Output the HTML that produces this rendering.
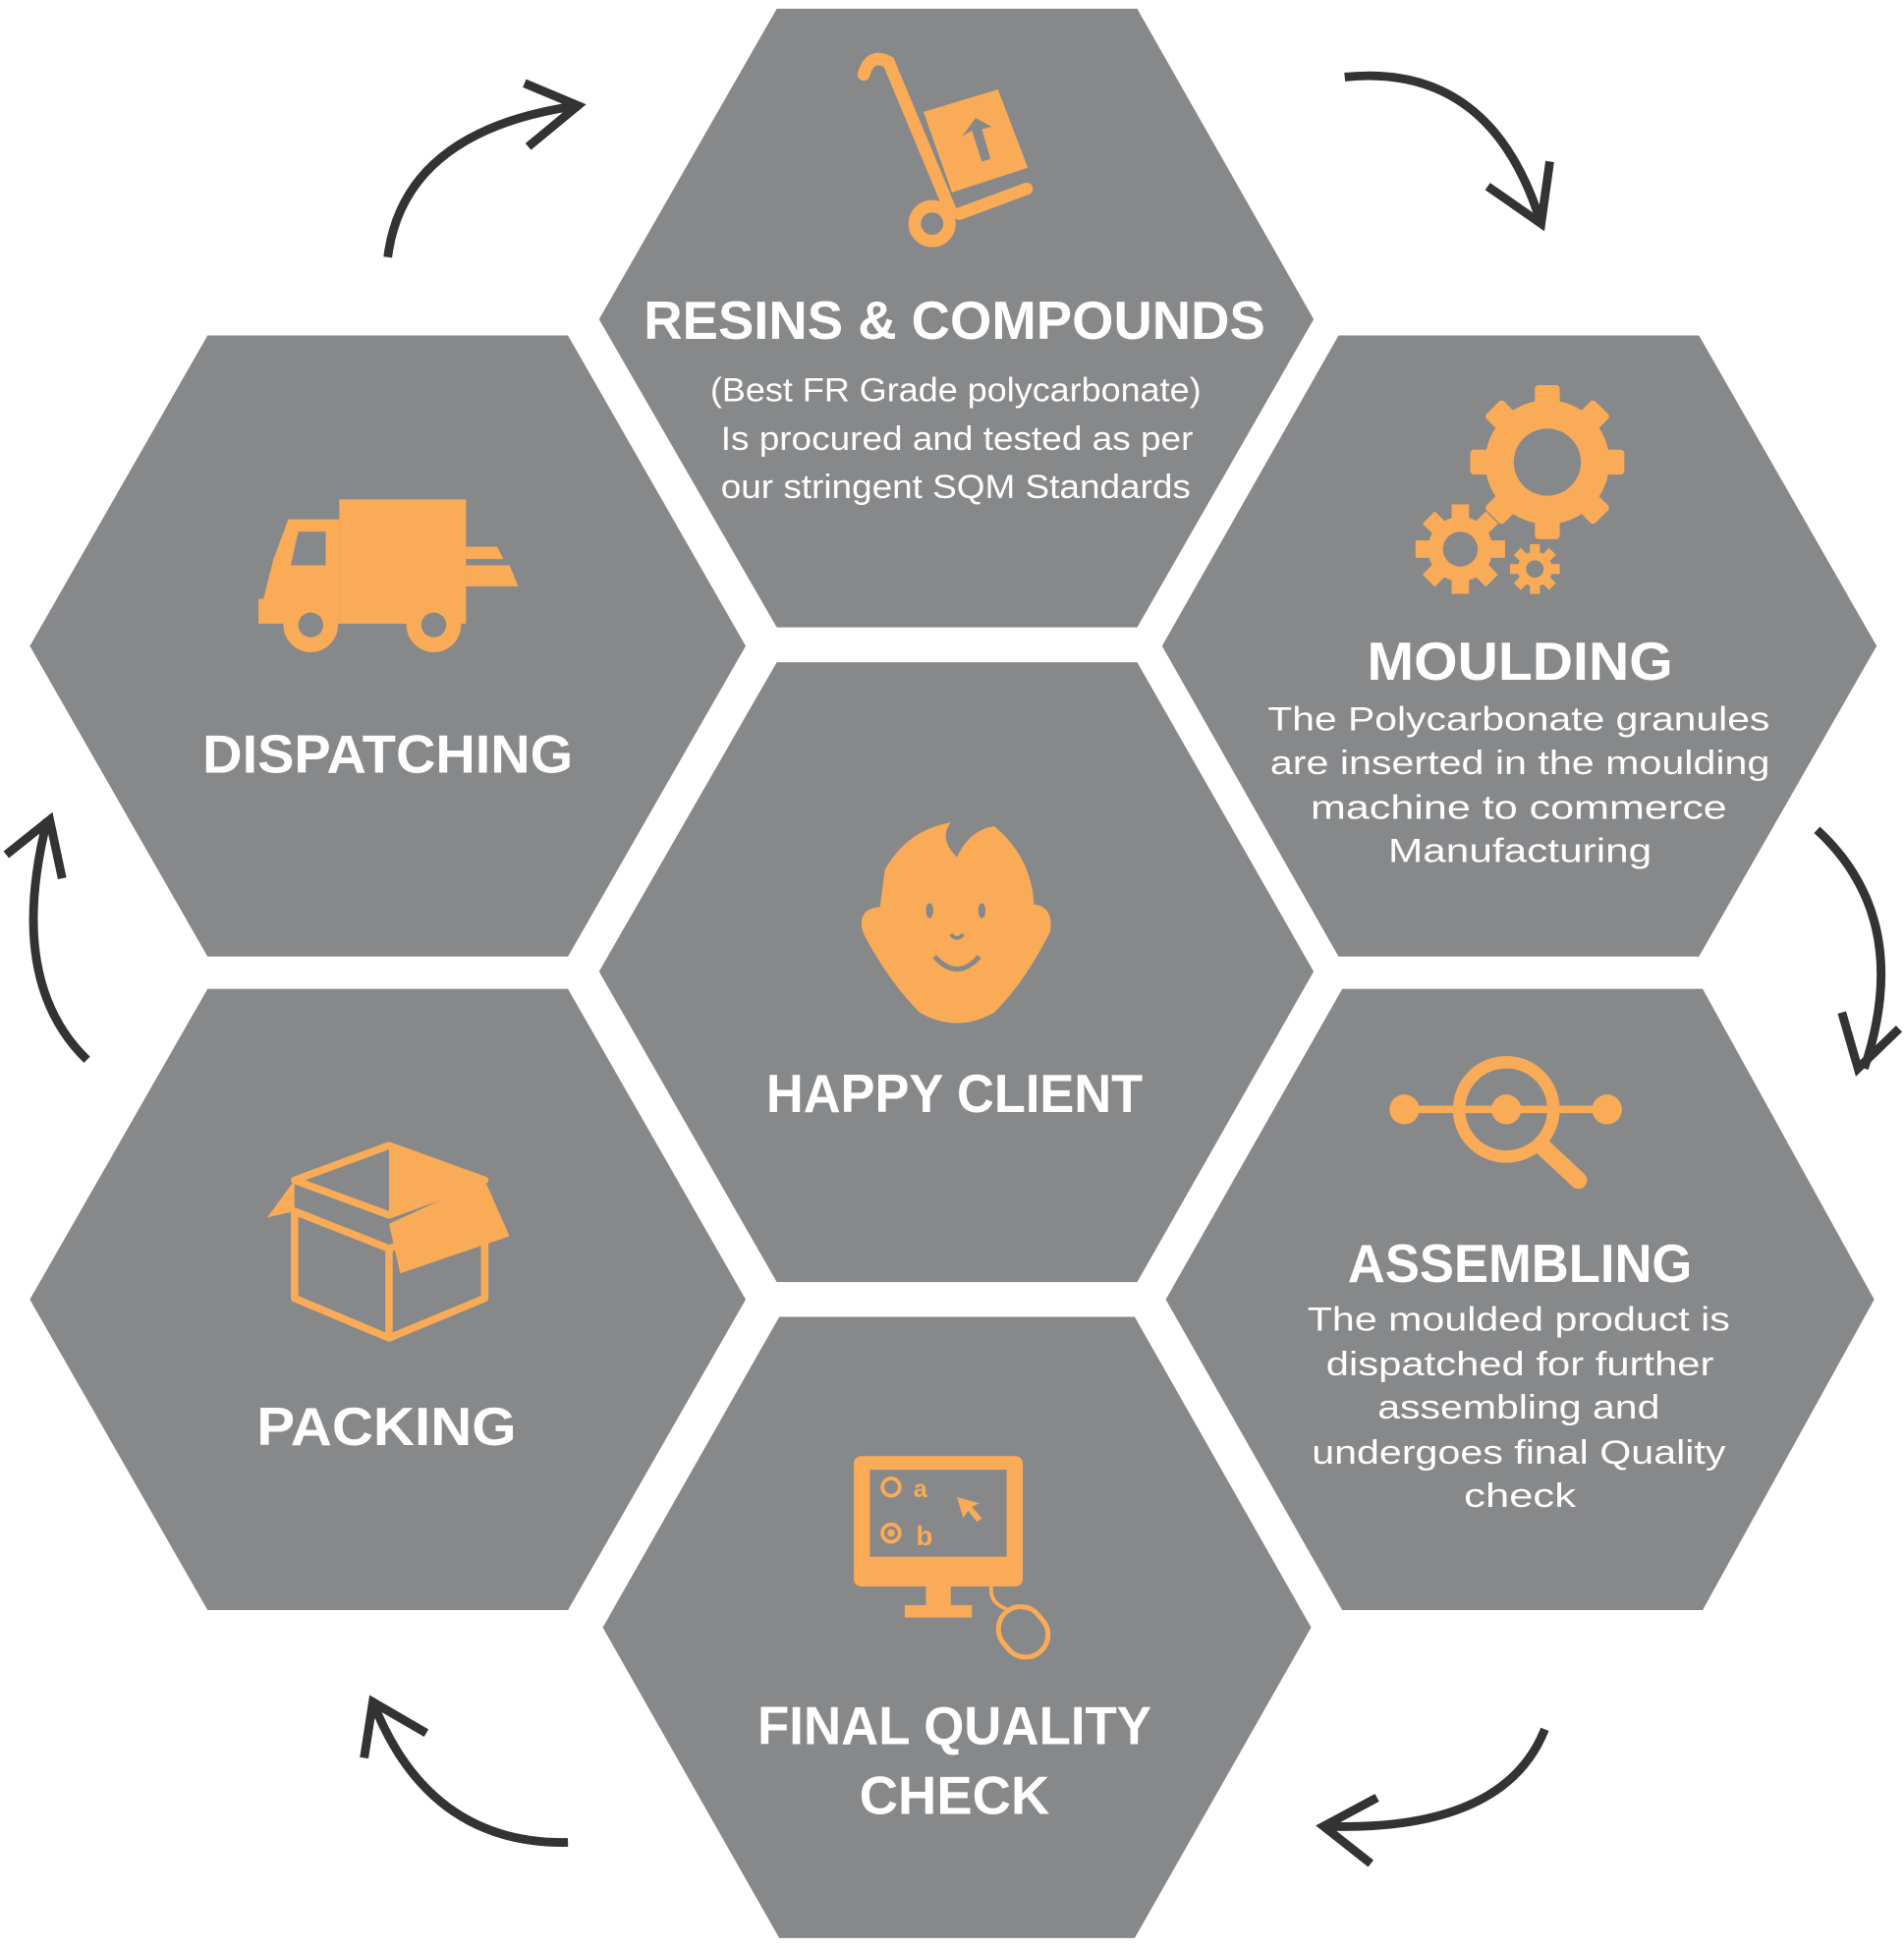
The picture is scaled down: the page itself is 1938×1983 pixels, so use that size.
<!DOCTYPE html>
<html><head><meta charset="utf-8"><style>
html,body{margin:0;padding:0;background:#fff;}
svg{display:block;}
.t{font-family:"Liberation Sans",sans-serif;font-weight:bold;fill:#fff;text-anchor:middle;font-size:43px;}
.s{font-family:"Liberation Sans",sans-serif;fill:#fff;text-anchor:middle;font-size:27px;}
</style></head><body>
<svg width="1938" height="1983" viewBox="0 0 1532 1568" preserveAspectRatio="none" xmlns="http://www.w3.org/2000/svg">
<g fill="#87888a">
<polygon points="625,7 915,7 1057,257 915,505 625,505 482,257"/>
<polygon points="625,533 915,533 1057,782 915,1032 625,1032 482,782"/>
<polygon points="627,1060 913,1060 1055,1310 913,1560 627,1560 485,1310"/>
<polygon points="167,270 457,270 600,520 457,770 167,770 24,520"/>
<polygon points="167,796 457,796 600,1046 457,1296 167,1296 24,1046"/>
<polygon points="1077,270 1367,270 1510,520 1367,770 1077,770 935,520"/>
<polygon points="1080,796 1370,796 1508,1046 1370,1296 1080,1296 938,1046"/>
</g>
<g fill="none" stroke="#333" stroke-width="7" stroke-linecap="butt">
<path d="M312,207 Q325,105 465,85"/><path d="M425,118 L465,85 L422,67"/>
<path d="M1082,62 Q1200,50 1240,180"/><path d="M1197,150 L1240,180 L1247,130"/>
<path d="M1462,668 Q1540,740 1500,860"/><path d="M1482,815 L1495,860 L1528,828"/>
<path d="M1243,1392 Q1210,1475 1065,1470"/><path d="M1103,1500 L1065,1470 L1108,1447"/>
<path d="M457,1483 Q345,1485 300,1370"/><path d="M293,1415 L300,1370 L343,1395"/>
<path d="M70,853 Q5,790 38,660"/><path d="M5,688 L40,660 L50,707"/>
</g>
<g fill="#f9ab57" stroke="none">
<path d="M695,60 Q700,42 715,50 L765,170" fill="none" stroke="#f9ab57" stroke-width="10" stroke-linecap="round"/>
<circle cx="750" cy="180" r="14" fill="none" stroke="#f9ab57" stroke-width="10"/>
<line x1="772" y1="172" x2="826" y2="152" stroke="#f9ab57" stroke-width="10" stroke-linecap="round"/>
<polygon points="743,90 803,72 827,135 766,155"/>
<path d="M790,130 L782,105 L774,110 L785,95 L798,102 L790,104 L797,128 Z" fill="#87888a"/>
<circle cx="1245" cy="372" r="50"/>
<g transform="translate(1245,372)"><rect x="-10" y="-62" width="20" height="124" rx="3"/><rect x="-10" y="-62" width="20" height="124" rx="3" transform="rotate(45)"/><rect x="-10" y="-62" width="20" height="124" rx="3" transform="rotate(90)"/><rect x="-10" y="-62" width="20" height="124" rx="3" transform="rotate(135)"/></g>
<circle cx="1245" cy="372" r="27" fill="#87888a"/>
<g transform="translate(1175,442)"><circle r="26"/><rect x="-7" y="-36" width="14" height="72"/><rect x="-7" y="-36" width="14" height="72" transform="rotate(45)"/><rect x="-7" y="-36" width="14" height="72" transform="rotate(90)"/><rect x="-7" y="-36" width="14" height="72" transform="rotate(135)"/><circle r="14" fill="#87888a"/></g>
<g transform="translate(1235,458)"><circle r="14"/><rect x="-4" y="-20" width="8" height="40"/><rect x="-4" y="-20" width="8" height="40" transform="rotate(45)"/><rect x="-4" y="-20" width="8" height="40" transform="rotate(90)"/><rect x="-4" y="-20" width="8" height="40" transform="rotate(135)"/><circle r="7" fill="#87888a"/></g>
<rect x="273" y="402" width="102" height="100"/>
<path d="M232,418 L273,418 L273,502 L208,502 L208,482 L212,482 L220,450 Z"/>
<path d="M240,428 L262,428 L262,455 L234,455 Z" fill="#87888a"/>
<path d="M375,440 L400,440 L405,450 L375,450 Z M375,455 L410,455 L417,472 L375,472 Z"/>
<circle cx="250" cy="503" r="22"/><circle cx="250" cy="503" r="10" fill="#87888a"/>
<circle cx="349" cy="503" r="22"/><circle cx="349" cy="503" r="10" fill="#87888a"/>
<path d="M712,700 Q730,668 765,662 Q755,675 770,690 Q780,668 800,665 Q830,690 832,728 Q848,730 845,750 Q825,790 800,815 Q770,832 740,815 Q715,790 695,752 Q688,732 708,730 Z"/>
<ellipse cx="748" cy="733" rx="3" ry="6" fill="#87888a"/><ellipse cx="790" cy="733" rx="3" ry="6" fill="#87888a"/>
<path d="M765,752 Q770,758 775,752" fill="none" stroke="#87888a" stroke-width="3"/>
<path d="M752,770 Q770,790 788,770" fill="none" stroke="#87888a" stroke-width="4"/>
<line x1="1130" y1="893" x2="1293" y2="893" stroke="#f9ab57" stroke-width="6"/>
<circle cx="1130" cy="893" r="12"/><circle cx="1293" cy="893" r="12"/><circle cx="1212" cy="893" r="12"/>
<circle cx="1212" cy="893" r="38" fill="none" stroke="#f9ab57" stroke-width="10"/>
<line x1="1240" y1="922" x2="1270" y2="950" stroke="#f9ab57" stroke-width="14" stroke-linecap="round"/>
<g fill="none" stroke="#f9ab57" stroke-width="6" stroke-linejoin="round">
<polygon points="237,975 313,1005 390,975 390,1045 313,1077 237,1045"/>
<line x1="313" y1="1005" x2="313" y2="1077"/>
<polygon points="237,950 313,922 390,950 313,978"/>
</g>
<polygon points="237,950 215,980 237,975"/>
<polygon points="313,922 313,980 390,950"/>
<polygon points="313,985 390,950 410,995 322,1025"/>
<rect x="687" y="1172" width="136" height="105" rx="6"/>
<rect x="700" y="1183" width="110" height="70" fill="#87888a"/>
<rect x="745" y="1275" width="20" height="20"/><rect x="728" y="1292" width="54" height="10"/>
<circle cx="717" cy="1197" r="7" fill="none" stroke="#f9ab57" stroke-width="3"/>
<circle cx="717" cy="1234" r="7" fill="none" stroke="#f9ab57" stroke-width="3"/><circle cx="717" cy="1234" r="3"/>
<text x="735" y="1205" font-family="Liberation Sans" font-weight="bold" font-size="20">a</text>
<text x="737" y="1244" font-family="Liberation Sans" font-weight="bold" font-size="22">b</text>
<path d="M770,1205 L788,1210 L782,1213 L790,1222 L786,1225 L779,1216 L775,1222 Z"/>
<path d="M798,1275 Q795,1290 810,1295" fill="none" stroke="#f9ab57" stroke-width="3"/>
<g transform="rotate(-40 822 1312)"><rect x="804" y="1293" width="36" height="42" rx="18" fill="none" stroke="#f9ab57" stroke-width="4"/></g>
</g>
<g lengthAdjust="spacingAndGlyphs">
<text class="t" x="768" y="273" textLength="500" lengthAdjust="spacingAndGlyphs">RESINS &amp; COMPOUNDS</text>
<text class="s" x="769" y="323" textLength="395" lengthAdjust="spacingAndGlyphs">(Best FR Grade polycarbonate)</text>
<text class="s" x="770" y="362" textLength="380" lengthAdjust="spacingAndGlyphs">Is procured and tested as per</text>
<text class="s" x="769" y="401" textLength="378" lengthAdjust="spacingAndGlyphs">our stringent SQM Standards</text>
<text class="t" x="1223" y="547" textLength="246" lengthAdjust="spacingAndGlyphs">MOULDING</text>
<text class="s" x="1222" y="588" textLength="404" lengthAdjust="spacingAndGlyphs">The Polycarbonate granules</text>
<text class="s" x="1223" y="623" textLength="402" lengthAdjust="spacingAndGlyphs">are inserted in the moulding</text>
<text class="s" x="1222" y="659" textLength="335" lengthAdjust="spacingAndGlyphs">machine to commerce</text>
<text class="s" x="1223" y="694" textLength="212" lengthAdjust="spacingAndGlyphs">Manufacturing</text>
<text class="t" x="312" y="622" textLength="298" lengthAdjust="spacingAndGlyphs">DISPATCHING</text>
<text class="t" x="768" y="895" textLength="303" lengthAdjust="spacingAndGlyphs">HAPPY CLIENT</text>
<text class="t" x="1223" y="1032" textLength="277" lengthAdjust="spacingAndGlyphs">ASSEMBLING</text>
<text class="s" x="1222" y="1071" textLength="340" lengthAdjust="spacingAndGlyphs">The moulded product is</text>
<text class="s" x="1223" y="1107" textLength="312" lengthAdjust="spacingAndGlyphs">dispatched for further</text>
<text class="s" x="1222" y="1142" textLength="227" lengthAdjust="spacingAndGlyphs">assembling and</text>
<text class="s" x="1222" y="1178" textLength="333" lengthAdjust="spacingAndGlyphs">undergoes final Quality</text>
<text class="s" x="1223" y="1213" textLength="90" lengthAdjust="spacingAndGlyphs">check</text>
<text class="t" x="311" y="1163" textLength="209" lengthAdjust="spacingAndGlyphs">PACKING</text>
<text class="t" x="768" y="1404" textLength="317" lengthAdjust="spacingAndGlyphs">FINAL QUALITY</text>
<text class="t" x="768" y="1460" textLength="153" lengthAdjust="spacingAndGlyphs">CHECK</text>
</g>
</svg>
</body></html>
